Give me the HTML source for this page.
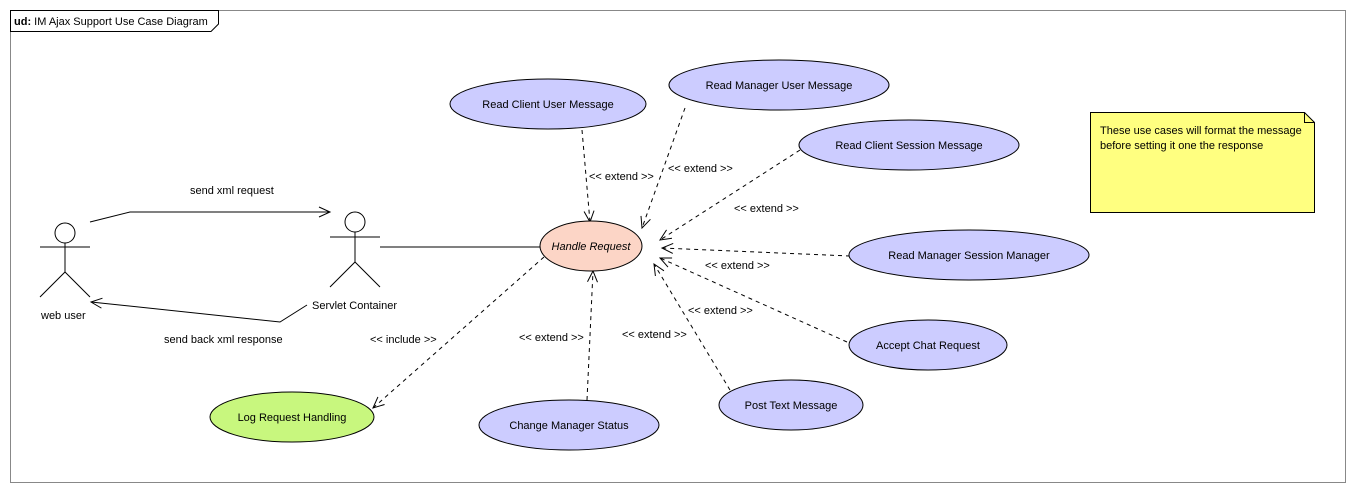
<!DOCTYPE html>
<html><head><style>body{margin:0;background:#fff}svg text{font-family:"Liberation Sans",sans-serif;font-size:11px}</style></head>
<body>
<svg width="1355" height="492" xmlns="http://www.w3.org/2000/svg">
<defs>
<marker id="a" markerWidth="14" markerHeight="14" refX="12" refY="7" orient="auto" markerUnits="userSpaceOnUse"><path d="M1,2 L12,7 L1,12" fill="none" stroke="#000"/></marker>
</defs>
<rect x="10.5" y="10.5" width="1335" height="472" fill="#fff" stroke="#888"/>
<path d="M10.5,10.5 H218.5 V24 L211,31.5 H10.5 Z" fill="#fff" stroke="#000"/>
<text x="14" y="25"><tspan font-weight="bold">ud:</tspan> IM Ajax Support Use Case Diagram</text>

<!-- actors -->
<g fill="none" stroke="#000">
<circle cx="65" cy="233" r="10"/><line x1="40" y1="247" x2="90" y2="247"/><line x1="65" y1="243" x2="65" y2="272"/><path d="M40,297 L65,272 L90,297"/>
<circle cx="355" cy="222" r="10"/><line x1="330" y1="237" x2="380" y2="237"/><line x1="355" y1="232" x2="355" y2="262"/><path d="M330,287 L355,262 L380,287"/>
<path d="M90,222 L130,212 L330,212" marker-end="url(#a)"/>
<path d="M307,305 L280,322 L91,302" marker-end="url(#a)"/>
<line x1="380" y1="247" x2="541" y2="247"/>
</g>
<text x="41" y="319">web user</text>
<text x="312" y="309">Servlet Container</text>
<text x="190" y="194">send xml request</text>
<text x="164" y="343">send back xml response</text>

<!-- dashed -->
<g fill="none" stroke="#000" stroke-dasharray="4,4" marker-end="url(#a)">
<line x1="582" y1="130" x2="590" y2="222"/>
<line x1="685" y1="108" x2="642" y2="228"/>
<line x1="800" y1="150" x2="660" y2="240"/>
<line x1="850" y1="256" x2="662" y2="248"/>
<line x1="847" y1="342" x2="660" y2="258"/>
<line x1="730" y1="390" x2="654" y2="264"/>
<line x1="587" y1="400" x2="593" y2="271"/>
<line x1="544" y1="257" x2="373" y2="408"/>
</g>
<text x="589" y="180">&lt;&lt; extend &gt;&gt;</text>
<text x="668" y="172">&lt;&lt; extend &gt;&gt;</text>
<text x="734" y="212">&lt;&lt; extend &gt;&gt;</text>
<text x="705" y="269">&lt;&lt; extend &gt;&gt;</text>
<text x="688" y="314">&lt;&lt; extend &gt;&gt;</text>
<text x="622" y="338">&lt;&lt; extend &gt;&gt;</text>
<text x="519" y="341">&lt;&lt; extend &gt;&gt;</text>
<text x="370" y="343">&lt;&lt; include &gt;&gt;</text>

<!-- ellipses -->
<g stroke="#000" stroke-width="1">
<ellipse cx="591" cy="246" rx="51" ry="25" fill="#fcd5c6"/>
<ellipse cx="548" cy="104" rx="98" ry="25" fill="#ccccff"/>
<ellipse cx="779" cy="85" rx="110" ry="25" fill="#ccccff"/>
<ellipse cx="909" cy="145" rx="110" ry="25" fill="#ccccff"/>
<ellipse cx="969" cy="255" rx="120" ry="25" fill="#ccccff"/>
<ellipse cx="928" cy="345" rx="79" ry="25" fill="#ccccff"/>
<ellipse cx="791" cy="405" rx="72" ry="25" fill="#ccccff"/>
<ellipse cx="569" cy="425" rx="90" ry="25" fill="#ccccff"/>
<ellipse cx="292" cy="417" rx="82" ry="25" fill="#c8f77e"/>
</g>
<g text-anchor="middle">
<text x="591" y="250" font-style="italic">Handle Request</text>
<text x="548" y="108">Read Client User Message</text>
<text x="779" y="89">Read Manager User Message</text>
<text x="909" y="149">Read Client Session Message</text>
<text x="969" y="259">Read Manager Session Manager</text>
<text x="928" y="349">Accept Chat Request</text>
<text x="791" y="409">Post Text Message</text>
<text x="569" y="429">Change Manager Status</text>
<text x="292" y="421">Log Request Handling</text>
</g>

<!-- note -->
<path d="M1090.5,112.5 H1304.5 L1314.5,122.5 V212.5 H1090.5 Z" fill="#ffff80" stroke="#000"/>
<path d="M1304.5,112.5 V122.5 H1314.5" fill="none" stroke="#000"/>
<text x="1100" y="134">These use cases will format the message</text>
<text x="1100" y="149">before setting it one the response</text>
</svg>
</body></html>
